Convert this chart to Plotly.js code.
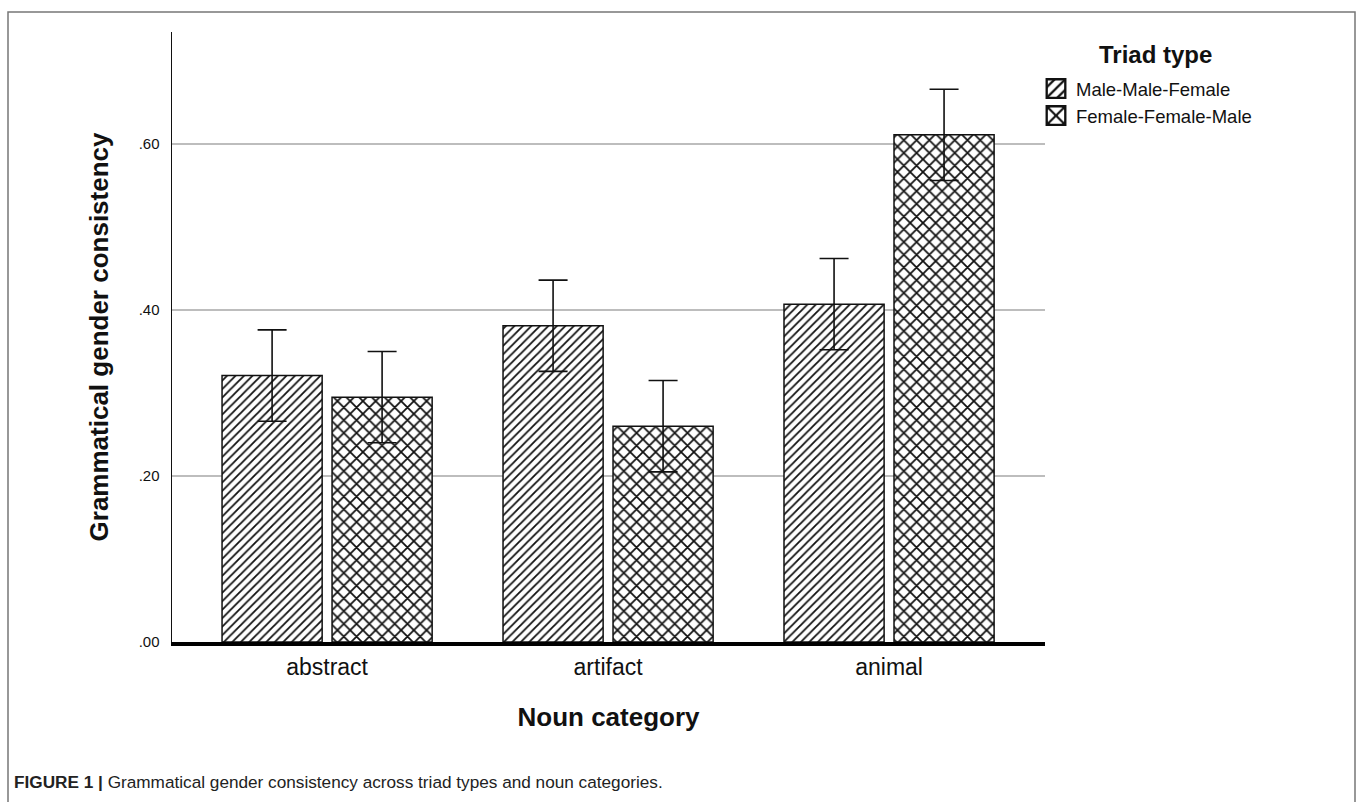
<!DOCTYPE html>
<html>
<head>
<meta charset="utf-8">
<script src="https://cdn.plot.ly/plotly-3.0.1.min.js"></script>
<style>
  html, body { margin: 0; padding: 0; background: #fff; }
  #chart { width: 1357px; height: 802px; }
</style>
</head>
<body>
<div id="chart"></div>
<script>
// Noun categories on the x axis
const categories = ['abstract', 'artifact', 'animal'];

// Mean grammatical gender consistency per triad type
const maleMaleFemale = [0.321, 0.381, 0.407];
const femaleFemaleMale = [0.295, 0.260, 0.611];

// Error bar half-lengths
const maleMaleFemaleErr = [0.055, 0.055, 0.055];
const femaleFemaleMaleErr = [0.055, 0.055, 0.055];

// Y axis ticks
const yTickVals = [0, 0.2, 0.4, 0.6];
const yTickText = ['.00', '.20', '.40', '.60'];

const FONT = 'Liberation Sans, Arial, Helvetica, sans-serif';

function barTrace(name, values, errs, shape, size, solidity) {
  return {
    type: 'bar',
    name: name,
    x: categories,
    y: values,
    marker: {
      color: '#ffffff',
      line: { color: '#111111', width: 1.5 },
      pattern: { shape: shape, fgcolor: '#111111', bgcolor: '#ffffff', size: size, solidity: solidity }
    },
    error_y: { type: 'data', array: errs, visible: true, color: '#111111', thickness: 1.6, width: 14.5 },
    hoverinfo: 'skip'
  };
}

const traces = [
  barTrace('Male-Male-Female', maleMaleFemale, maleMaleFemaleErr, '/', 6, 0.3),
  barTrace('Female-Female-Male', femaleFemaleMale, femaleFemaleMaleErr, 'x', 9, 0.35)
];

// Plot area spans 172..1045 px horizontally and 32..642 px vertically
const L = 172, R = 1045, T = 32, B = 642, W = 1357, H = 802;
const px = v => (v - L) / (R - L);
const py = v => (B - v) / (B - T);

const layout = {
  width: W,
  height: H,
  margin: { l: L, r: W - R, t: T, b: H - B, pad: 0, autoexpand: false },
  paper_bgcolor: '#ffffff',
  plot_bgcolor: '#ffffff',
  font: { family: FONT, color: '#111111' },
  barmode: 'group',
  bargap: 0.217,
  bargroupgap: 0.09,
  showlegend: true,
  xaxis: {
    range: [-0.552, 2.555],
    automargin: false,
    showgrid: false,
    zeroline: false,
    showline: true,
    linecolor: '#000000',
    linewidth: 4,
    ticks: '',
    tickfont: { size: 23, family: FONT, color: '#111111' },
    ticklabelstandoff: 1,
    title: { text: 'Noun category', font: { size: 26, family: FONT, color: '#111111', weight: 'bold' }, standoff: 30 }
  },
  yaxis: {
    range: [0, 0.7349],
    automargin: false,
    tickvals: yTickVals,
    ticktext: yTickText,
    showgrid: true,
    gridcolor: '#bdbdbd',
    gridwidth: 1.5,
    zeroline: false,
    showline: true,
    linecolor: '#111111',
    linewidth: 1.5,
    ticks: '',
    tickfont: { size: 15, family: FONT, color: '#111111' },
    ticklabelstandoff: 8,
    title: { text: 'Grammatical gender consistency', font: { size: 26, family: FONT, color: '#111111', weight: 'bold' }, standoff: 22 }
  },
  legend: {
    xref: 'paper', yref: 'paper',
    x: px(1036), y: py(70),
    xanchor: 'left', yanchor: 'top',
    bgcolor: 'rgba(0,0,0,0)',
    borderwidth: 0,
    font: { size: 18.5, family: FONT, color: '#111111' },
    itemwidth: 30,
    traceorder: 'normal'
  },
  annotations: [
    {
      text: 'Triad type',
      xref: 'paper', yref: 'paper',
      x: px(1155), y: py(54),
      xanchor: 'center', yanchor: 'middle',
      showarrow: false,
      font: { size: 24, family: FONT, color: '#111111', weight: 'bold' }
    },
    {
      text: '<b>FIGURE 1 |</b> Grammatical gender consistency across triad types and noun categories.',
      xref: 'paper', yref: 'paper',
      x: px(12), y: py(782),
      xanchor: 'left', yanchor: 'middle',
      showarrow: false,
      font: { size: 17.2, family: FONT, color: '#222222' }
    }
  ],
  shapes: [
    {
      type: 'rect', xref: 'paper', yref: 'paper',
      x0: px(8), x1: px(1355), y0: py(815), y1: py(12),
      line: { color: '#777777', width: 1.5 },
      fillcolor: 'rgba(0,0,0,0)',
      layer: 'below'
    }
  ]
};

// Enlarge the legend swatches, keeping the position Plotly gave them
function enlargeLegendSwatches() {
  document.querySelectorAll('#chart .legendpoints path').forEach(p => {
    const t = p.getAttribute('transform') || '';
    if (!/scale/.test(t)) p.setAttribute('transform', t + ' scale(1.55)');
  });
}

Plotly.newPlot('chart', traces, layout, { displayModeBar: false, staticPlot: true })
  .then(enlargeLegendSwatches);
</script>
</body>
</html>
